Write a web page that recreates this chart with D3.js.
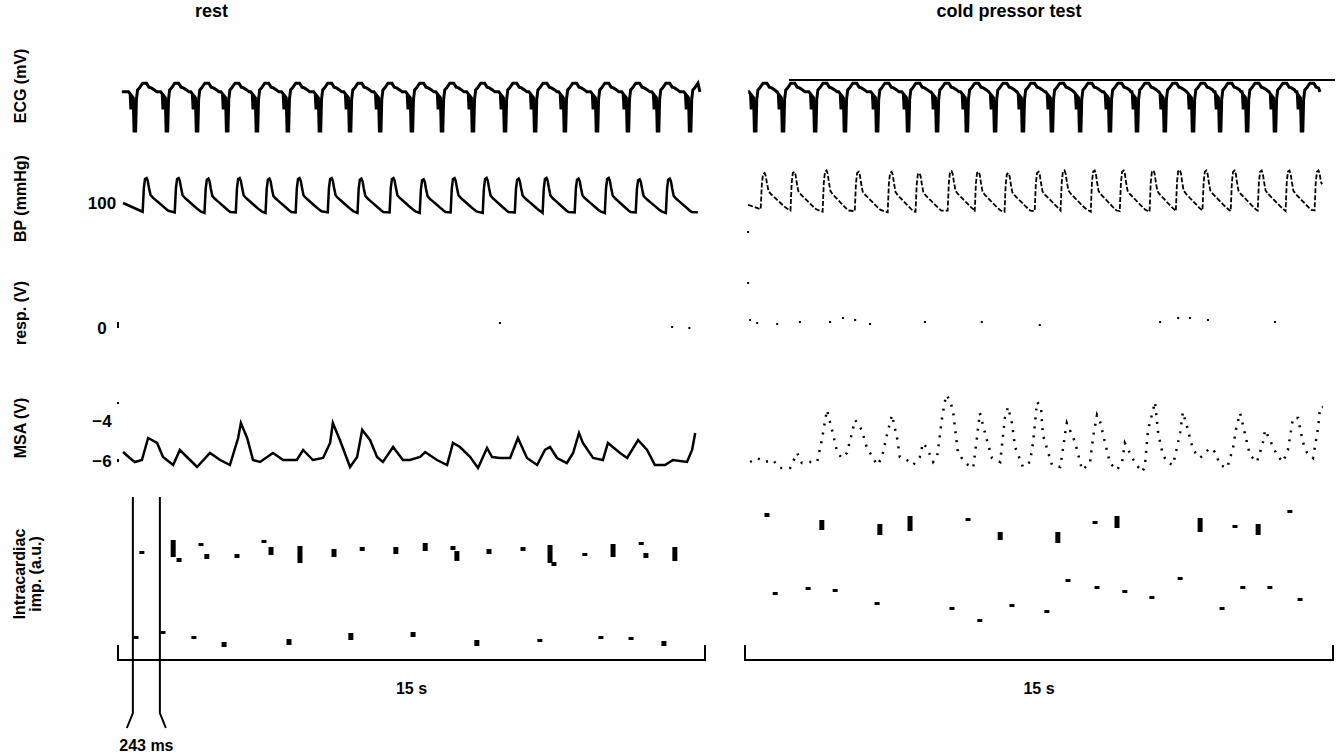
<!DOCTYPE html>
<html><head><meta charset="utf-8">
<script src="https://cdn.jsdelivr.net/npm/d3@7"></script>
<style>body{margin:0;background:#fff}svg{display:block}text{font-family:"Liberation Sans",Arial,sans-serif;fill:#000;font-weight:bold}</style>
</head><body><svg id="c" width="1338" height="756"></svg>
<script>
// ---------- data ----------
const panelTitles = ["rest", "cold pressor test"];
const rowLabels = ["ECG (mV)", "BP (mmHg)", "resp. (V)", "MSA (V)"];
const impLabel = ["Intracardiac", "imp. (a.u.)"];
const bpTicks = [100];
const respTicks = [0];
const msaTicks = [-4, -6];
const scaleBarLabel = "15 s";
const intervalLabel = "243 ms";
const intervalTimes = [0.38, 1.07];          // s, rest panel
const coldPeriod = [1.12, 15.05];            // s, cold panel bar

// ECG single-beat morphology (s relative to R, mV)
const ecgTplT = [-0.16, -0.12, -0.10, -0.08, -0.04, -0.02, 0.02, 0.04, 0.07, 0.12, 0.20, 0.30, 0.36, 0.42, 0.50, 0.56];
const ecgTplV = [0.0, -0.05, -0.45, -0.10, -0.15, -1.0, -1.0, -0.2, 0.05, 0.10, 0.22, 0.22, 0.12, 0.10, 0.05, 0.0];
const ecgRestBeats = [0.43, 1.25, 2.02, 2.79, 3.55, 4.34, 5.16, 5.93, 6.70, 7.51, 8.28, 9.07, 9.89, 10.66, 11.42, 12.24, 13.03, 13.80, 14.62];
const ecgColdBeats = [0.26, 0.97, 1.79, 2.55, 3.37, 4.16, 4.90, 5.66, 6.38, 7.09, 7.83, 8.55, 9.31, 10.00, 10.71, 11.43, 12.12, 12.81, 13.52, 14.21];
const ecgRestSpan = [0.10, 14.87];
const ecgColdSpan = [0.08, 14.67];

// BP single-beat morphology (s relative to systolic peak, fraction of pulse pressure)
const bpTplT = [-0.06, -0.03, 0.0, 0.04, 0.07, 0.10, 0.14, 0.20, 0.26, 0.34, 0.44, 0.54, 0.60];
const bpTplN = [0.0, 0.70, 0.97, 1.0, 0.92, 0.72, 0.50, 0.42, 0.36, 0.28, 0.18, 0.08, 0.03];
const bpRestPeaks = [0.69, 1.51, 2.27, 3.07, 3.83, 4.60, 5.42, 6.18, 7.00, 7.77, 8.56, 9.38, 10.20, 10.91, 11.73, 12.50, 13.29, 14.06];
const bpRestSys = [140, 140, 139, 140, 139, 140, 140, 139, 140, 138, 140, 140, 139, 140, 139, 140, 138, 139];
const bpRestDia = [86, 85, 84, 85, 84, 85, 85, 84, 85, 84, 85, 84, 85, 84, 85, 84, 85, 84];
const bpRestEnds = [[0.13, 100], [14.82, 85]];
const bpColdPeaks = [0.46, 1.22, 2.04, 2.86, 3.70, 4.41, 5.23, 5.92, 6.68, 7.45, 8.11, 8.88, 9.62, 10.38, 11.05, 11.73, 12.45, 13.14, 13.85, 14.59];
const bpColdSys = [148, 150, 152, 150, 150, 148, 151, 150, 148, 150, 152, 152, 152, 152, 153, 152, 152, 152, 152, 152];
const bpColdDia = [90, 88, 86, 87, 85, 86, 88, 86, 86, 87, 88, 86, 87, 86, 87, 88, 87, 88, 87, 88];
const bpColdEnds = [[0.08, 97], [14.72, 130]];

// respiration (sparse samples, s, V)
const respRest = [[9.76, 0.25], [14.16, 0.05], [14.60, 0.0]];
const respCold = [[0.08, 4.8], [0.08, 2.25], [0.13, 0.4], [0.31, 0.25], [0.82, 0.2], [1.40, 0.3], [2.17, 0.3], [2.50, 0.5], [2.81, 0.4], [3.19, 0.2], [4.59, 0.3], [6.04, 0.3], [7.52, 0.15], [10.59, 0.3], [11.05, 0.5], [11.35, 0.5], [11.81, 0.4], [13.52, 0.3]];

// MSA (s, V)
const msaRest = [[0.13,-5.55],[0.30,-5.85],[0.43,-6.05],[0.61,-5.95],[0.77,-4.85],[1.00,-5.10],[1.15,-5.80],[1.41,-6.20],[1.58,-5.45],[1.84,-5.95],[2.02,-6.30],[2.35,-5.60],[2.61,-5.95],[2.86,-6.20],[3.07,-4.85],[3.14,-4.10],[3.30,-4.85],[3.45,-5.95],[3.63,-6.05],[3.96,-5.60],[4.22,-5.95],[4.57,-5.95],[4.73,-5.45],[4.98,-5.95],[5.24,-5.85],[5.42,-5.10],[5.49,-4.10],[5.67,-4.95],[5.93,-6.30],[6.11,-5.80],[6.24,-4.45],[6.44,-4.95],[6.62,-5.80],[6.77,-6.05],[7.03,-5.30],[7.28,-5.95],[7.46,-5.95],[7.72,-5.80],[7.85,-5.55],[8.15,-5.95],[8.41,-6.20],[8.56,-5.10],[8.74,-5.30],[9.00,-5.80],[9.20,-6.35],[9.43,-5.35],[9.56,-5.80],[9.76,-5.85],[10.02,-5.85],[10.22,-4.85],[10.45,-5.85],[10.71,-6.20],[10.91,-5.45],[11.04,-5.30],[11.22,-5.85],[11.47,-6.10],[11.63,-5.60],[11.78,-4.60],[11.88,-5.10],[12.14,-5.85],[12.39,-5.95],[12.52,-5.10],[12.83,-5.60],[13.01,-5.85],[13.29,-4.95],[13.52,-5.45],[13.72,-6.20],[13.98,-6.20],[14.18,-5.95],[14.54,-6.05],[14.67,-5.45],[14.75,-4.60]];
const msaCold = [[0.13,-6.05],[0.31,-5.85],[0.51,-6.05],[0.71,-5.95],[0.89,-6.35],[1.15,-6.35],[1.33,-5.60],[1.45,-6.10],[1.66,-6.05],[1.84,-6.05],[1.96,-4.95],[2.09,-3.45],[2.24,-4.60],[2.35,-5.55],[2.47,-5.85],[2.60,-5.60],[2.81,-3.95],[2.98,-4.45],[3.11,-5.35],[3.27,-5.85],[3.37,-6.20],[3.49,-5.85],[3.62,-4.70],[3.75,-3.70],[3.88,-4.85],[3.95,-5.80],[4.13,-5.95],[4.29,-6.20],[4.46,-5.80],[4.54,-5.10],[4.64,-5.35],[4.80,-6.05],[4.90,-5.80],[5.03,-3.80],[5.13,-2.70],[5.23,-2.95],[5.31,-3.55],[5.43,-5.55],[5.56,-5.95],[5.69,-6.20],[5.82,-6.35],[5.92,-4.80],[5.99,-3.60],[6.17,-4.95],[6.30,-5.85],[6.51,-6.05],[6.63,-3.85],[6.71,-3.30],[6.81,-4.10],[6.89,-5.30],[7.09,-6.30],[7.27,-6.05],[7.35,-5.05],[7.45,-3.05],[7.55,-3.30],[7.60,-4.70],[7.83,-6.20],[8.04,-6.30],[8.09,-5.70],[8.16,-4.70],[8.21,-4.10],[8.42,-5.05],[8.47,-5.45],[8.60,-6.45],[8.80,-6.10],[8.88,-4.80],[8.98,-3.70],[9.06,-4.05],[9.23,-5.45],[9.31,-6.10],[9.49,-6.45],[9.62,-6.05],[9.69,-5.10],[9.82,-5.60],[9.95,-6.10],[10.13,-6.55],[10.20,-6.30],[10.28,-4.45],[10.38,-3.70],[10.46,-3.05],[10.54,-4.60],[10.66,-5.70],[10.79,-6.10],[10.92,-6.20],[11.10,-4.60],[11.17,-3.55],[11.30,-4.45],[11.43,-5.45],[11.61,-5.85],[11.86,-5.35],[11.99,-5.55],[12.12,-6.20],[12.30,-6.35],[12.45,-5.35],[12.53,-4.35],[12.63,-3.60],[12.88,-5.70],[13.06,-6.05],[13.21,-5.10],[13.27,-4.45],[13.57,-5.70],[13.72,-6.05],[13.85,-5.45],[13.98,-3.85],[14.11,-3.85],[14.16,-4.35],[14.23,-5.05],[14.34,-5.60],[14.49,-5.85],[14.62,-4.35],[14.67,-3.30],[14.74,-3.30]];

// intracardiac impedance samples (s, upper a.u., lower a.u.)
const impRest = [[0.61,109,107],[1.41,120,103],[1.56,102,98],[2.12,117,115],[2.27,106,101],[3.04,106,102],[3.73,120,118],[3.91,113,105],[4.65,114,97],[5.52,111,103],[6.24,113,109],[7.10,113,106],[7.85,117,109],[8.56,114,110],[8.66,109,99],[9.48,111,106],[10.35,113,109],[11.04,115,97],[11.14,98,94],[11.93,107,104],[12.65,116,103],[13.37,118,117],[13.49,107,102],[14.23,113,99],
  [0.46,24,23],[1.15,29,26],[1.94,24,23],[2.71,18,13],[4.37,21,15],[5.95,27,20],[7.54,28,23],[9.17,20,14],[10.78,21,18],[12.34,24,22],[13.11,23,21],[13.95,19,14]];
const impCold = [[0.56,147,143],[1.96,140,130],[3.44,136,125],[4.21,144,129],[5.69,142,139],[6.51,128,120],[7.98,128,117],[8.93,139,136],[9.49,144,132],[11.61,142,128],[12.50,135,132],[13.09,136,125],[13.90,150,147],
  [0.77,68,66],[1.61,73,71],[2.30,71,69],[3.37,58,55],[5.28,53,50],[5.99,41,39],[6.81,56,53],[7.70,50,47],[8.24,81,79],[8.98,74,71],[9.69,70,67],[10.38,64,62],[11.10,83,80],[12.17,53,50],[12.70,74,72],[13.39,74,72],[14.16,62,60]];

// ---------- scales ----------
const svg = d3.select("#c");
const xRest = d3.scaleLinear().domain([0, 15]).range([118, 705]);
const xCold = d3.scaleLinear().domain([0, 15]).range([745, 1333]);
const yECG = d3.scaleLinear().domain([-1, 0.2]).range([131, 84]);
const yBP = d3.scaleLinear().domain([80, 140]).range([215.5, 178]);
const yResp = d3.scaleLinear().domain([-1, 1]).range([348, 308]);
const yMSA = d3.scaleLinear().domain([-6, -4]).range([461, 421]);
const yImp = d3.scaleLinear().domain([0, 160]).range([660, 500]);

// ---------- builders ----------
function ecgPoints(beats, span) {
  const pts = [[span[0], 0]];
  beats.forEach(b => ecgTplT.forEach((t, i) => pts.push([b + t, ecgTplV[i]])));
  pts.push([span[1], 0]);
  return pts.filter(p => p[0] >= span[0] && p[0] <= span[1]).sort((a, b) => a[0] - b[0]);
}
function bpPoints(peaks, sys, dia, ends) {
  const pts = [ends[0]];
  peaks.forEach((p, k) => bpTplT.forEach((t, i) => pts.push([p + t, dia[k] + bpTplN[i] * (sys[k] - dia[k])])));
  pts.push(ends[1]);
  return pts.filter(p => p[0] >= ends[0][0] && p[0] <= ends[1][0]).sort((a, b) => a[0] - b[0]);
}
function drawLine(data, x, y, opts) {
  const line = d3.line().x(d => x(d[0])).y(d => y(d[1])).curve(d3.curveLinear);
  const p = svg.append("path").datum(data).attr("d", line)
    .attr("fill", "none").attr("stroke", "#000")
    .attr("stroke-width", opts.w).attr("stroke-linejoin", "miter");
  if (opts.dash) p.attr("stroke-dasharray", opts.dash);
}

// ECG
drawLine(ecgPoints(ecgRestBeats, ecgRestSpan), xRest, yECG, {w: 3});
drawLine(ecgPoints(ecgColdBeats, ecgColdSpan), xCold, yECG, {w: 3});
// cold period bar
svg.append("line").attr("x1", xCold(coldPeriod[0])).attr("x2", xCold(coldPeriod[1]))
  .attr("y1", yECG(0.3)).attr("y2", yECG(0.3)).attr("stroke", "#000").attr("stroke-width", 2);

// BP
drawLine(bpPoints(bpRestPeaks, bpRestSys, bpRestDia, bpRestEnds), xRest, yBP, {w: 2.5});
drawLine(bpPoints(bpColdPeaks, bpColdSys, bpColdDia, bpColdEnds), xCold, yBP, {w: 1.8, dash: "5,2"});

// resp
[[respRest, xRest], [respCold, xCold]].forEach(([d, x]) => {
  svg.append("g").selectAll("rect").data(d).join("rect")
    .attr("x", v => x(v[0]) - 1).attr("y", v => yResp(v[1]) - 1)
    .attr("width", 2).attr("height", 2).attr("fill", "#000");
});

// MSA
drawLine(msaRest, xRest, yMSA, {w: 2.5});
drawLine(msaCold, xCold, yMSA, {w: 2.5, dash: "2,7"});

// intracardiac impedance
[[impRest, xRest], [impCold, xCold]].forEach(([d, x]) => {
  svg.append("g").selectAll("rect").data(d).join("rect")
    .attr("x", v => x(v[0]) - 2.5).attr("y", v => yImp(v[1]))
    .attr("width", 5).attr("height", v => Math.max(3, yImp(v[2]) - yImp(v[1])))
    .attr("fill", "#000");
});

// ---------- axes (tick labels, centred) ----------
function tickAxis(scale, ticks) {
  const g = svg.append("g").attr("transform", `translate(${xRest(0)},0)`)
    .call(d3.axisLeft(scale).tickValues(ticks).tickSize(0).tickPadding(16).tickFormat(d3.format("d")));
  g.select(".domain").remove();
  g.selectAll("text").attr("text-anchor", "middle")
    .style("font-size", "17px").style("font-weight", "bold")
    .style("font-family", "Liberation Sans, Arial, sans-serif");
}
tickAxis(yBP, bpTicks);
tickAxis(yResp, respTicks);
tickAxis(yMSA, msaTicks);
// small y ticks at axis position
[[yResp, 0, 0.3], [yMSA, -3.05, -3.15], [yMSA, -5.9, -6.05]].forEach(([s, a, b]) => {
  svg.append("line").attr("x1", xRest(0)).attr("x2", xRest(0)).attr("y1", s(a)).attr("y2", s(b))
    .attr("stroke", "#000").attr("stroke-width", 2);
});

// ---------- titles & labels ----------
svg.append("text").attr("x", (xRest(0) + xRest(15)) / 2 - 200).attr("y", 17)
  .attr("text-anchor", "middle").style("font-size", "18px").text(panelTitles[0]);
svg.append("text").attr("x", (xCold(0) + xCold(15)) / 2 - 30).attr("y", 17)
  .attr("text-anchor", "middle").style("font-size", "18px").text(panelTitles[1]);

const labelY = [yECG(0.15), yBP(107), yResp(0.75), yMSA(-4.35)];
rowLabels.forEach((t, i) => {
  svg.append("text").attr("transform", `translate(20,${labelY[i]}) rotate(-90)`)
    .attr("text-anchor", "middle").attr("dominant-baseline", "central")
    .style("font-size", "16px").text(t);
});
impLabel.forEach((t, i) => {
  svg.append("text").attr("transform", `translate(${19 + i * 16},${yImp(86)}) rotate(-90)`)
    .attr("text-anchor", "middle").attr("dominant-baseline", "central")
    .style("font-size", "16px").text(t);
});

// ---------- scale bars ----------
[xRest, xCold].forEach(x => {
  const yb = yImp(0), yt = yImp(15);
  svg.append("path").attr("d", `M${x(0)},${yt}V${yb}H${x(15)}V${yt}`)
    .attr("fill", "none").attr("stroke", "#000").attr("stroke-width", 2);
  svg.append("text").attr("x", x(7.5)).attr("y", 694).attr("text-anchor", "middle")
    .style("font-size", "16px").text(scaleBarLabel);
});

// 243 ms interval markers
intervalTimes.forEach((t, i) => {
  const x0 = xRest(t), dir = i === 0 ? -1 : 1;
  svg.append("path").attr("d", `M${x0},497V713L${x0 + dir * 6},728`)
    .attr("fill", "none").attr("stroke", "#000").attr("stroke-width", 2);
});
svg.append("text").attr("x", (xRest(intervalTimes[0]) + xRest(intervalTimes[1])) / 2).attr("y", 751)
  .attr("text-anchor", "middle").style("font-size", "16px").text(intervalLabel);
</script></body></html>
